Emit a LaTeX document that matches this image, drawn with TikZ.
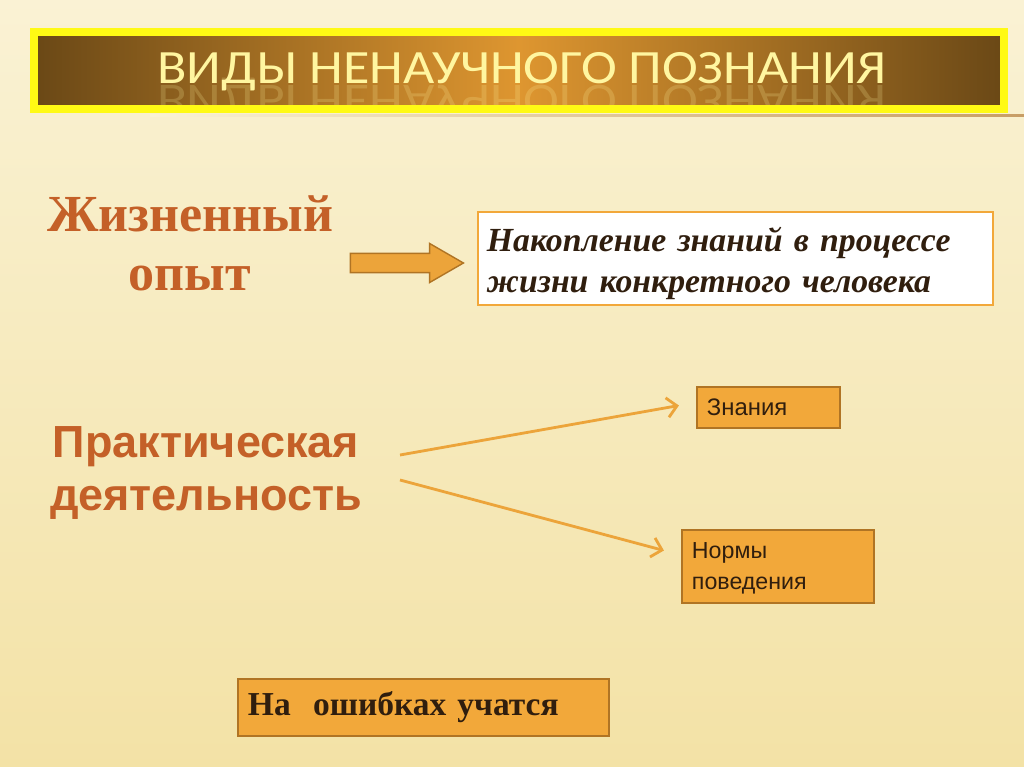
\documentclass[tikz,border=0pt]{standalone}
\usepackage{fontspec}
\setmainfont{Liberation Serif}
\setsansfont{Liberation Sans}
\newfontfamily\titlefont{Carlito}
\usetikzlibrary{arrows.meta,shapes.arrows}

\definecolor{bgtop}{RGB}{250,242,212}
\definecolor{bgbot}{RGB}{243,226,166}
\definecolor{titleyel}{RGB}{255,250,20}
\definecolor{titledark}{RGB}{106,72,22}
\definecolor{titleglow}{RGB}{222,150,48}
\definecolor{titletext}{RGB}{255,246,160}
\definecolor{headorange}{RGB}{196,96,40}
\definecolor{boxorange}{RGB}{242,168,58}
\definecolor{boxedge}{RGB}{176,116,36}
\definecolor{darktext}{RGB}{48,30,14}
\definecolor{linkorange}{RGB}{236,164,58}

\newcommand{\pxu}{0.7113pt}

\tikzset{
  heading/.style={text=headorange, align=center, anchor=base},
  whitebox/.style={draw=boxorange, line width=1.5pt, fill=white, text=darktext,
    align=left, inner xsep=9*\pxu},
  orangebox/.style={draw=boxedge, line width=1.5pt, fill=boxorange, text=darktext,
    align=left, inner xsep=10*\pxu},
  bigarrow/.style={single arrow, draw=boxedge, fill=linkorange, line width=1pt,
    single arrow tip angle=60, single arrow head extend=7pt, inner ysep=6.4pt},
  link/.style={draw=linkorange, line width=2pt, -{Straight Barb[length=7pt,width=14pt]}},
  titletxt/.style={font=\titlefont\fontsize{34}{34}\selectfont, text=titletext,
    anchor=base, xscale=1.13},
}

\begin{document}
\begin{tikzpicture}[x=0.025cm,y=-0.025cm]
  \useasboundingbox (0,0) rectangle (1024,767);
  % background
  \shade[top color=bgtop, bottom color=bgbot] (0,0) rectangle (1024,767);
  \shade[left color=bgtop, right color=boxedge!70] (150,115) rectangle (1024,117);

  % title bar
  \path[draw=titleyel, line width=5.5pt, left color=titledark, right color=titledark,
    middle color=titleglow] (34,32) rectangle (1004,109);
  \node[titletxt] (title) at (522,84) {ВИДЫ НЕНАУЧНОГО ПОЗНАНИЯ};
  \begin{scope}
    \clip (38,36) rectangle (1000,105);
    \node[titletxt, yscale=-1, opacity=0.2] (mirror) at (522,86) {ВИДЫ НЕНАУЧНОГО ПОЗНАНИЯ};
  \end{scope}

  % life experience
  \node[heading, font=\bfseries\fontsize{37}{41.3}\selectfont] (zhizn) at (190,290)
    {Жизненный\\опыт};
  \node[bigarrow, minimum height=113*\pxu, minimum width=27pt] (opytarrow) at (398.5,263) {};
  \node[whitebox, text width=497*\pxu, minimum height=93*\pxu,
    font=\bfseries\itshape\fontsize{24}{29}\selectfont] (nakop) at (735.5,258.5)
    {\rule{0pt}{24.8pt}Накопление знаний в процессе\\
     жизни конкретного человека\rule[-5pt]{0pt}{5pt}};

  % practice
  \node[heading, font=\sffamily\bfseries\fontsize{32}{37}\selectfont] (prakt) at (206,510)
    {Практическая\\деятельность};
  \coordinate (p1) at (400,455);
  \coordinate (p2) at (400,480);
  \node[orangebox, text width=123*\pxu, minimum height=41*\pxu,
    font=\sffamily\fontsize{17}{21}\selectfont] (znan) at (768.5,407.5) {Знания};
  \node[orangebox, text width=172*\pxu, minimum height=73*\pxu,
    font=\sffamily\fontsize{16.5}{21.5}\selectfont] (norm) at (778,566.5)
    {\rule{0pt}{14pt}Нормы\\поведения};
  \draw[link] (p1) -- ([shift={(-17,-2)}]znan.west);
  \draw[link] (p2) -- ([shift={(-17,-16)}]norm.west);

  % mistakes
  \node[orangebox, text width=351*\pxu, minimum height=57*\pxu,
    font=\bfseries\fontsize{23.8}{28}\selectfont] (oshib) at (423.5,707.5)
    {На\ \ ошибках учатся};
\end{tikzpicture}
\end{document}
